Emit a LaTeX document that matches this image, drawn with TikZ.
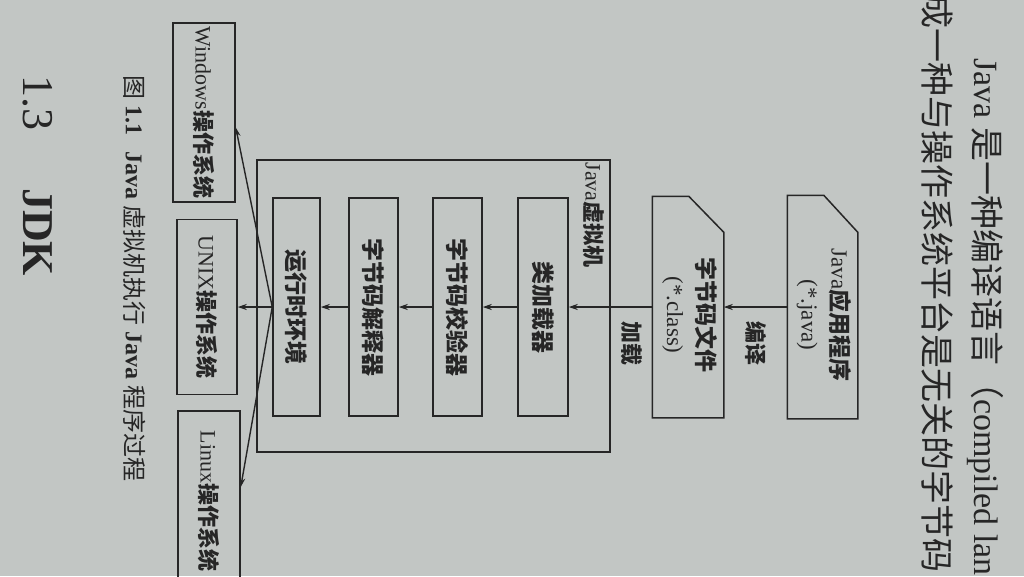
\documentclass[tikz,border=0pt]{standalone}
\usepackage{fontspec}
\usepackage{graphicx}
\setmainfont{Liberation Serif}
\newfontfamily\cjk{Noto Sans CJK SC}
\usetikzlibrary{arrows.meta}
\definecolor{paper}{RGB}{194,198,196}
\definecolor{ink}{RGB}{38,38,38}
\newcommand{\vtext}[1]{\rotatebox{-90}{#1}}
\newcommand{\cnb}[1]{{\cjk\bfseries #1}}
\tikzset{
  box/.style={draw=ink, line width=1.5pt, inner sep=0pt, text=ink, font=\fontsize{23}{30}\selectfont},
  osbox/.style={box, font=\fontsize{22}{30}\selectfont},
  doc/.style={box, draw=none},
  outline/.style={draw=ink, line width=1.5pt},
  flow/.style={-{Stealth[length=9pt,width=6pt,inset=3pt]}, draw=ink, line width=1.4pt},
  lbl/.style={text=ink, inner sep=0pt, font=\fontsize{22}{25}\selectfont},
  page/.style={text=ink, inner sep=0pt, anchor=north}
}

\begin{document}
\begin{tikzpicture}[x=1pt,y=-1pt]
  \useasboundingbox (0,0) rectangle (1024,576);
  \fill[paper] (0,0) rectangle (1024,576);
  \clip (0,0) rectangle (1024,576);

  % page text
  \node[page, font=\fontsize{34}{40}\selectfont] (LineA) at (985,58) {\vtext{Java {\cjk 是一种编译语言（}compiled lan}};
  \node[page, font=\fontsize{34}{40}\selectfont] (LineB) at (937,-6) {\vtext{\cjk 成一种与操作系统平台是无关的字节码}};
  \node[page, font=\fontsize{44}{50}\selectfont] (Heading) at (38,75) {\vtext{1.3\hspace{58pt}\textbf{JDK}}};
  \node[page, font=\fontsize{24}{28}\selectfont] (Caption) at (135,75)
    {\vtext{{\cjk 图} \textbf{1.1}\hspace{16pt}\textbf{Java} {\cjk 虚拟机执行} \textbf{Java} {\cjk 程序过程}}};

  % source and class file
  \node[doc, minimum width=69pt, minimum height=222pt] (JavaSource) at (822.5,307)
    {\vtext{\hspace{16pt}\begin{tabular}{@{}c@{}}Java\cnb{应用程序}\\(*.java)\end{tabular}}};
  \node[doc, minimum width=70pt, minimum height=220pt] (ClassFile) at (688,307)
    {\vtext{\hspace{16pt}\begin{tabular}{@{}c@{}}\cnb{字节码文件}\\(*.class)\end{tabular}}};
  \draw[outline] (JavaSource.south west) -- (JavaSource.north west) -- ([xshift=-34pt]JavaSource.north east)
    -- ([yshift=-37pt]JavaSource.north east) -- (JavaSource.south east) -- cycle;
  \draw[outline] (ClassFile.south west) -- (ClassFile.north west) -- ([xshift=-35pt]ClassFile.north east)
    -- ([yshift=-36pt]ClassFile.north east) -- (ClassFile.south east) -- cycle;

  % virtual machine
  \node[box, minimum width=353pt, minimum height=292pt] (JVM) at (433.5,306) {};
  \node[lbl, anchor=north east] (JVMLabel) at ([xshift=-6pt,yshift=-3pt]JVM.north east) {\vtext{Java\cnb{虚拟机}}};
  \node[box, minimum width=50pt, minimum height=218pt] (ClassLoader) at (543,307) {\vtext{\cnb{类加载器}}};
  \node[box, minimum width=49pt, minimum height=218pt] (Verifier) at (457.5,307) {\vtext{\cnb{字节码校验器}}};
  \node[box, minimum width=49pt, minimum height=218pt] (Interpreter) at (373.5,307) {\vtext{\cnb{字节码解释器}}};
  \node[box, minimum width=47pt, minimum height=218pt] (Runtime) at (296.5,307) {\vtext{\cnb{运行时环境}}};

  % operating systems
  \node[osbox, minimum width=62pt, minimum height=179pt] (Windows) at (204,112.5) {\vtext{Windows\cnb{操作系统}}};
  \node[osbox, minimum width=60pt, minimum height=175pt] (Unix) at (207,307) {\vtext{UNIX\cnb{操作系统}}};
  \node[osbox, minimum width=62pt, minimum height=180pt] (Linux) at (209,501) {\vtext{Linux\cnb{操作系统}}};

  \draw[flow] (JavaSource) -- node[lbl, below=14pt] {\vtext{\cnb{编译}}} (ClassFile);
  \draw[flow] (ClassFile) -- node[lbl, pos=0.25, below=14pt] {\vtext{\cnb{加载}}} (ClassLoader);
  \draw[flow] (ClassLoader) -- (Verifier);
  \draw[flow] (Verifier) -- (Interpreter);
  \draw[flow] (Interpreter) -- (Runtime);
  \draw[flow] (Runtime) -- (Unix);
  \draw[flow] (Runtime.west) -- ([yshift=-15pt]Windows.east);
  \draw[flow] (Runtime.west) -- ([yshift=14pt]Linux.east);
\end{tikzpicture}
\end{document}
